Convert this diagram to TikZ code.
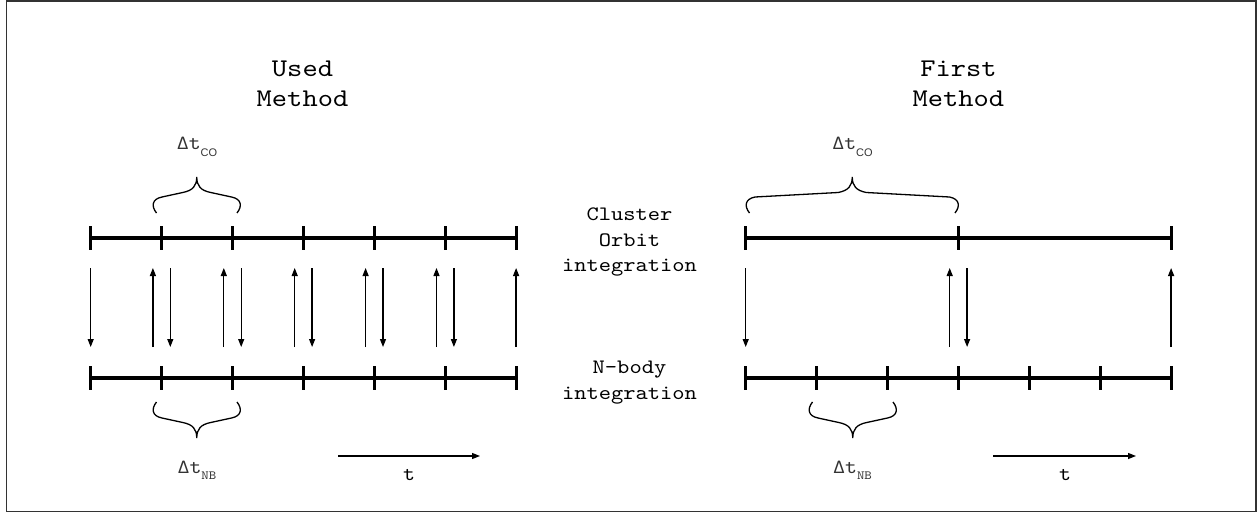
\documentclass[tikz,border=0pt]{standalone}
\usepackage{fontspec}
\setmainfont{lmmono10-regular.otf}[FakeStretch=1.14]
\setsansfont{Liberation Sans}
\usetikzlibrary{arrows.meta}
\newcommand\mybrace[4]{% xL xR yend sign
  \draw[brc] ({#1+3.5},{#3}) .. controls ({#1-2},{#3-7*(#4)}) and ({#1-1},{#3-14*(#4)}) .. ({#1+9},{#3-16*(#4)})
    -- ({(#1+#2)/2-14},{#3-20.5*(#4)}) .. controls ({(#1+#2)/2-4},{#3-22.5*(#4)}) and ({(#1+#2)/2},{#3-27*(#4)}) .. ({(#1+#2)/2},{#3-36*(#4)})
    .. controls ({(#1+#2)/2},{#3-27*(#4)}) and ({(#1+#2)/2+4},{#3-22.5*(#4)}) .. ({(#1+#2)/2+14},{#3-20.5*(#4)})
    -- ({#2-9},{#3-16*(#4)}) .. controls ({#2+1},{#3-14*(#4)}) and ({#2+2},{#3-7*(#4)}) .. ({#2-3.5},{#3});}
\begin{document}
\begin{tikzpicture}[x=1pt,y=-1pt,
  tl/.style={line width=3.3pt},
  tickmark/.style={line width=3pt},
  arr/.style={line width=1.3pt,-{Triangle[length=8pt,width=6pt]}},
  brc/.style={line width=1.3pt},
  title/.style={font=\fontsize{25.5}{30}\selectfont,align=center,inner sep=0pt},
  mid/.style={font=\fontsize{20.5}{25.5}\selectfont,align=center,inner sep=0pt},
  dlab/.style={font=\fontsize{20}{24}\selectfont,text=black!80,inner sep=0pt,anchor=base},
  tlab/.style={font=\fontsize{20}{24}\selectfont,inner sep=0pt,anchor=base}]
\useasboundingbox (0,0) rectangle (1257,513);
\draw[line width=1.3pt,black!80] (6.5,1) rectangle (1256,511.5);

% titles
\node[title] (tused) at (302.5,84) {Used\\Method};
\node[title] (tfirst) at (958.4,84) {First\\Method};
\node[mid] (lco) at (629.5,242) {Cluster\\Orbit\\integration};
\node[mid] (lnb) at (629.5,382.5) {N-body\\integration};

% coordinates
\foreach \i in {0,...,6}{
  \coordinate (Lt\i) at ({90.7+70.9*\i},238);
  \coordinate (Lb\i) at ({90.7+70.9*\i},378);
  \coordinate (La\i) at ({90.7+70.9*\i},268);
  \coordinate (Lz\i) at ({90.7+70.9*\i},347);
  \coordinate (Rt\i) at ({745.7+70.9*\i},238);
  \coordinate (Rb\i) at ({745.7+70.9*\i},378);
  \coordinate (Ra\i) at ({745.7+70.9*\i},268);
  \coordinate (Rz\i) at ({745.7+70.9*\i},347);
}

% left timelines
\draw[tl] (Lt0) -- (Lt6);
\draw[tl] (Lb0) -- (Lb6);
\foreach \i in {0,...,6}{
  \draw[tickmark] ([yshift=12pt]Lt\i) -- ([yshift=-12pt]Lt\i);
  \draw[tickmark] ([yshift=12pt]Lb\i) -- ([yshift=-12pt]Lb\i);
}
\draw[arr] (La0) -- (Lz0);
\foreach \i in {1,...,5}{
  \draw[arr] ([xshift=-8.7pt]Lz\i) -- ([xshift=-8.7pt]La\i);
  \draw[arr] ([xshift=8.7pt]La\i) -- ([xshift=8.7pt]Lz\i);
}
\draw[arr] (Lz6) -- (La6);

% right timelines
\draw[tl] (Rt0) -- (Rt6);
\draw[tl] (Rb0) -- (Rb6);
\foreach \i in {0,3,6}{
  \draw[tickmark] ([yshift=12pt]Rt\i) -- ([yshift=-12pt]Rt\i);
}
\foreach \i in {0,...,6}{
  \draw[tickmark] ([yshift=12pt]Rb\i) -- ([yshift=-12pt]Rb\i);
}
\draw[arr] (Ra0) -- (Rz0);
\draw[arr] ([xshift=-8.7pt]Rz3) -- ([xshift=-8.7pt]Ra3);
\draw[arr] ([xshift=8.7pt]Ra3) -- ([xshift=8.7pt]Rz3);
\draw[arr] (Rz6) -- (Ra6);

% braces
\mybrace{153}{240.5}{213}{1}
\mybrace{746}{958.5}{213}{1}
\mybrace{153}{240.5}{402}{-1}
\mybrace{809}{896.5}{402}{-1}

% delta labels
\node[dlab] (dcoL) at (197,150) {Δt\raisebox{-6pt}{\sffamily\fontsize{11}{12}\selectfont CO}};
\node[dlab] (dcoR) at (852.5,150) {Δt\raisebox{-6pt}{\sffamily\fontsize{11}{12}\selectfont CO}};
\node[dlab] (dnbL) at (197,473) {Δt\raisebox{-6pt}{\fontsize{12.5}{13}\selectfont NB}};
\node[dlab] (dnbR) at (852.5,473) {Δt\raisebox{-6pt}{\fontsize{12.5}{13}\selectfont NB}};

% time arrows
\coordinate (tLs) at (338,456);
\coordinate (tLe) at (480,456);
\coordinate (tRs) at (993,456);
\coordinate (tRe) at (1136,456);
\draw[arr] (tLs) -- (tLe);
\draw[arr] (tRs) -- (tRe);
\node[tlab] (tL) at (409,480) {t};
\node[tlab] (tR) at (1065,480) {t};
\end{tikzpicture}
\end{document}
